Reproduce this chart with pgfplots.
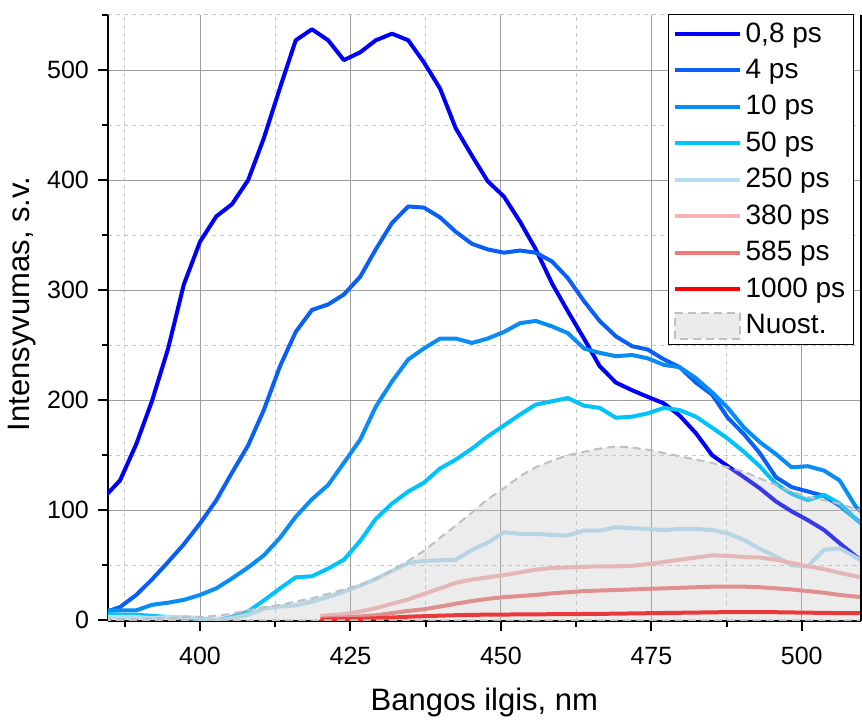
\documentclass[border=0pt]{standalone}
\usepackage{fontspec}
\setmainfont{Liberation Sans}
\usepackage{pgfplots}
\usepackage{pgfplotstable}
\pgfplotsset{compat=1.18}

\definecolor{c08}{RGB}{0,0,250}
\definecolor{c4}{RGB}{10,95,245}
\definecolor{c10}{RGB}{10,140,245}
\definecolor{c50}{RGB}{0,195,250}
\definecolor{c250}{RGB}{180,222,245}
\definecolor{c380}{RGB}{245,180,180}
\definecolor{c585}{RGB}{240,122,122}
\definecolor{c1000}{RGB}{255,0,0}

\pgfplotsset{nuostleg/.style={legend image code/.code={\draw[##1] (0pt,-6.5pt) rectangle (32.5pt,6.5pt);}}}

% x  0,8ps  4ps  10ps  50ps  250ps  steady state
\pgfplotstableread{
x     a    b    c    d    e     nu
384.1 112  7    9    6    3     1
386.7 127  12   9    5    3     1
389.4 160  23   9    5    3     1
392.0 199  37   14   4    2     2
394.7 247  53   16   3    3     2
397.3 305  69   18.5 2    3     3
400.0 344  88   23   1    2     3
402.7 367  109  29   0    0     4
405.3 378  134  38   3    2     6
408.0 400  159  48   8    5     9
410.6 438  191  59   18   10.5  12
413.3 484  231  75   29   12.5  14
415.9 527  262  94   39   13.5  17
418.6 537  282  110  40   17    20
421.3 527  287  123  47   21    24
423.9 509  296  143  55   26    28
426.6 516  312  164  72   31.5  32
429.2 527  337  194  92   37.5  38
431.9 533  361  217  106  45    45
434.6 527  376  237  117  52    54
437.2 507  375  247  125  54    63
439.9 483  366  256  138  54.5  75
442.5 447  353  256  146  55    86
445.2 422  342  252  156  64    98
447.8 399  337  256  167  70.5  110
450.5 385  334  262  177  80    120
453.2 362  336  270  187  78.5  131
455.8 337  334  272  196  78.5  139
458.5 306  326  267  199  77.5  145
461.1 281  311  261  202  77    150
463.8 256  290  247  195  81.5  153
466.4 231  272  243  193  81.5  156
469.1 216  258  240  184  84.5  158
471.8 209  249  241  185  83.6  157
474.4 203  246  238  188  83    155
477.1 197  237  232  193  82    152
479.7 186  230  230  191  83    149
482.4 170  216  220  185  83    146
485.1 150  205  207  175  82    143
487.7 140  184  193  165  79    139
490.4 130  169  175  153  73    135
493.0 120  152  162  140  65    129
495.7 108  130  151  124  58    123
498.3 99   121  139  115  50    117
501.0 91   117  140  109  49    112
503.7 82   113  136  114  64    109
506.3 70   104  127  106  65.5  106
509.0 58   92   103  92   57    101
511.6 48   80   90   80   50    99
}\main

% x  380ps  585ps  1000ps
\pgfplotstableread{
x     f     g     h
420.0 4     1.5   0.5
421.3 4.5   2     0.7
423.9 5.5   2.5   1
426.6 8     3.5   1.2
429.2 11    4.5   1.8
431.9 15    6.5   2.5
434.6 19    8.5   3.2
437.2 24    10    3.7
439.9 29    12.5  4.2
442.5 34    15    4.6
445.2 37    17.5  4.9
447.8 39    19.5  5.1
450.5 41    21    5.2
453.2 43.5  22    5.3
455.8 46    23    5.4
458.5 47.5  24.5  5.5
461.1 48    25.5  5.6
463.8 48.5  26.5  5.7
466.4 49    27    5.8
469.1 49    27.5  6
471.8 49.5  28    6.2
474.4 51    28.5  6.4
477.1 53    29    6.6
479.7 55    29.5  6.8
482.4 57    30    7
485.1 59    30.5  7.2
487.7 58.5  30.5  7.4
490.4 57.5  30.5  7.5
493.0 57    30    7.5
495.7 55    29    7.3
498.3 52    28    7.1
501.0 49    26.5  6.9
503.7 46.5  25    6.7
506.3 43    23    6.5
509.0 40    21.5  6.4
511.6 37    20    6.3
}\reds

\begin{document}
\begin{tikzpicture}
\begin{axis}[
  scale only axis, width=376.5pt, height=303pt,
  xmin=384.7, xmax=509.8, ymin=-0.5, ymax=550,
  axis x line*=bottom, axis y line*=left,
  axis line style={-, line width=1.25pt, black},
  xtick={400,425,450,475,500}, minor xtick={387.5,412.5,437.5,462.5,487.5},
  ytick={0,100,200,300,400,500}, minor ytick={50,150,250,350,450,550},
  tick pos=left, tick align=outside,
  major tick length=5pt, minor tick length=3pt,
  tick style={black, line width=1pt},
  grid=both,
  major grid style={black!38, line width=0.5pt},
  minor grid style={black!22, line width=0.5pt, dash pattern=on 2pt off 2pt},
  tick label style={font=\fontsize{12.5}{14}\selectfont},
  xticklabel style={yshift=-4.5pt},
  yticklabel style={xshift=-1pt},
  /pgf/number format/assume math mode=true,
  xlabel={Bangos ilgis, nm}, ylabel={Intensyvumas, s.v.},
  label style={font=\fontsize{15.5}{18}\selectfont},
  xlabel style={at={(axis description cs:0.5,-0.135)}, anchor=center},
  ylabel style={at={(axis description cs:-0.114,0.523)}, anchor=center},
  no markers, line join=round,
  legend cell align=left,
  legend image code/.code={\draw[#1] (0pt,0pt) -- (32.5pt,0pt);},
  legend style={at={(1,1)}, anchor=north east, xshift=-3.5pt, yshift=0.5pt,
    draw=black, line width=0.5pt, fill=white,
    font=\fontsize{14}{16}\selectfont, row sep=3pt,
    inner xsep=2pt, inner ysep=2pt},
]
\addplot[c08, line width=2pt] table[x=x, y=a] {\main};
\addlegendentry{0,8 ps}
\addplot[c4, line width=2pt] table[x=x, y=b] {\main};
\addlegendentry{4 ps}
\addplot[c10, line width=2pt] table[x=x, y=c] {\main};
\addlegendentry{10 ps}
\addplot[c50, line width=2pt] table[x=x, y=d] {\main};
\addlegendentry{50 ps}
\addplot[c250, line width=2pt] table[x=x, y=e] {\main};
\addlegendentry{250 ps}
\addplot[c380, line width=2pt] table[x=x, y=f] {\reds};
\addlegendentry{380 ps}
\addplot[c585, line width=2pt] table[x=x, y=g] {\reds};
\addlegendentry{585 ps}
\addplot[c1000, line width=2pt] table[x=x, y=h] {\reds};
\addlegendentry{1000 ps}
\addplot[draw=black!25, fill=black!25, fill opacity=0.3, line width=1pt,
  dash pattern=on 4pt off 2.5pt, nuostleg]
  table[x=x, y=nu] {\main} \closedcycle;
\addlegendentry{Nuost.}
\coordinate (bl) at (rel axis cs:0,0);
\coordinate (tr) at (rel axis cs:1,1);
\end{axis}
\draw[black, line width=1.25pt] (bl -| tr) -- (tr);
\path ([shift={(-54pt,-47pt)}]bl) rectangle ([shift={(0.5pt,7.5pt)}]tr);
\end{tikzpicture}
\end{document}
